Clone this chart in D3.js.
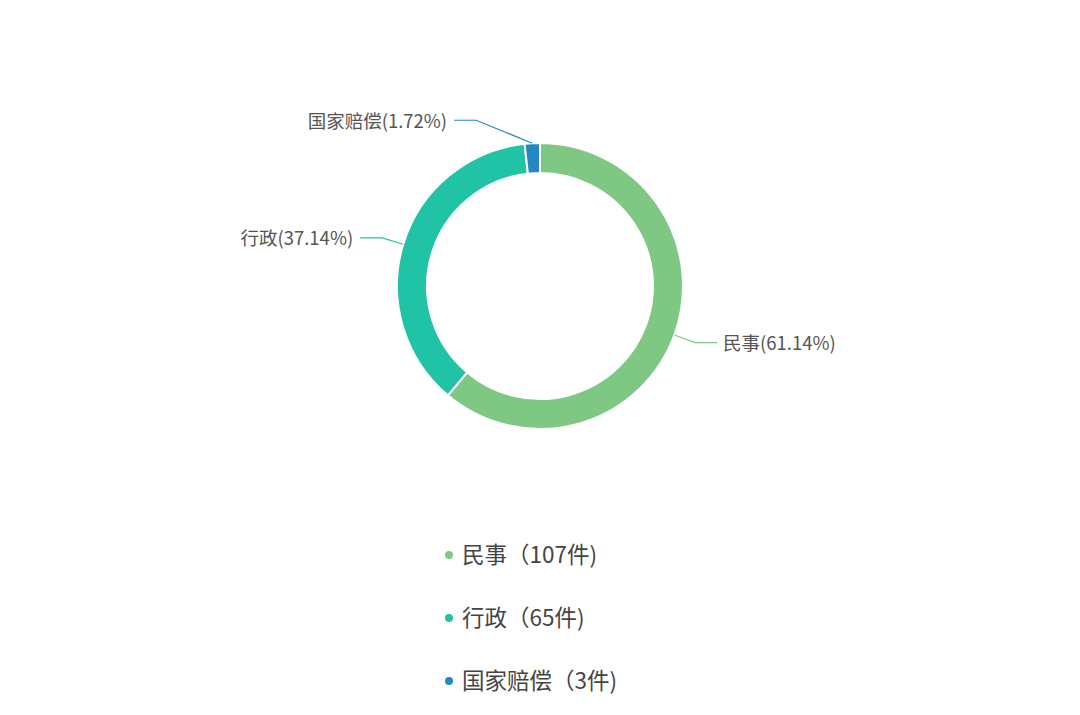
<!DOCTYPE html>
<html>
<head>
<meta charset="utf-8">
<script src="https://cdn.jsdelivr.net/npm/d3@7"></script>
<style>
  html, body { margin: 0; padding: 0; background: #fff; }
  svg { display: block; font-family: "Noto Sans CJK SC", "Microsoft YaHei", sans-serif; }
</style>
</head>
<body>
<script>
"use strict";

// chart data
const categories = ["民事", "行政", "国家赔偿"];
const counts = [107, 65, 3];
const percentLabels = ["61.14%", "37.14%", "1.72%"];
const colors = ["#7fc884", "#21c3a6", "#2489c2"];

const width = 1080;
const height = 715;
const cx = 540;
const cy = 286;
const outerR = 143;
const innerR = 113;

const svg = d3.select("body")
  .append("svg")
  .attr("width", width)
  .attr("height", height);

const pie = d3.pie().sort(null).value((d) => d)(counts);
const arc = d3.arc().innerRadius(innerR).outerRadius(outerR);

const g = svg.append("g").attr("transform", `translate(${cx},${cy})`);

g.selectAll("path")
  .data(pie)
  .join("path")
  .attr("d", arc)
  .attr("fill", (d, i) => colors[i])
  .attr("stroke", "#fff")
  .attr("stroke-width", 2);

// label lines: radial segment then a short horizontal one.
// the tiny slice near the top gets pushed up/out so it doesn't sit on the ring
function elbow(d) {
  const mid = (d.startAngle + d.endAngle) / 2;
  const r = outerR + 22;
  let x = Math.sin(mid) * r;
  let y = -Math.cos(mid) * r;
  if (d.index === 2) { x -= 55; y -= 1; }
  return [x, y];
}

const labels = g.append("g");
pie.forEach((d, i) => {
  const mid = (d.startAngle + d.endAngle) / 2;
  const p0 = [Math.sin(mid) * outerR, -Math.cos(mid) * outerR];
  const p1 = elbow(d);
  const right = p1[0] > 0;
  const p2 = [p1[0] + (right ? 22 : -22), p1[1]];

  labels.append("polyline")
    .attr("points", [p0, p1, p2].map((p) => p.join(",")).join(" "))
    .attr("fill", "none")
    .attr("stroke", colors[i])
    .attr("stroke-width", 1.2);

  labels.append("text")
    .attr("x", p2[0] + (right ? 6 : -7))
    .attr("y", p2[1] + 1)
    .attr("dy", "0.35em")
    .attr("text-anchor", right ? "start" : "end")
    .attr("font-size", 18.5)
    .attr("fill", "#555")
    .text(`${categories[i]}(${percentLabels[i]})`);
});

// legend
const legendY = d3.scalePoint()
  .domain(categories)
  .range([555, 681]);

const legend = svg.append("g")
  .selectAll("g")
  .data(categories)
  .join("g")
  .attr("transform", (d) => `translate(449,${legendY(d)})`);

legend.append("circle")
  .attr("r", 4)
  .attr("fill", (d, i) => colors[i]);

legend.append("text")
  .attr("x", 13)
  .attr("dy", "0.35em")
  .attr("font-size", 22.5)
  .attr("fill", "#444")
  .text((d, i) => `${d}（${counts[i]}件)`);
</script>
</body>
</html>
